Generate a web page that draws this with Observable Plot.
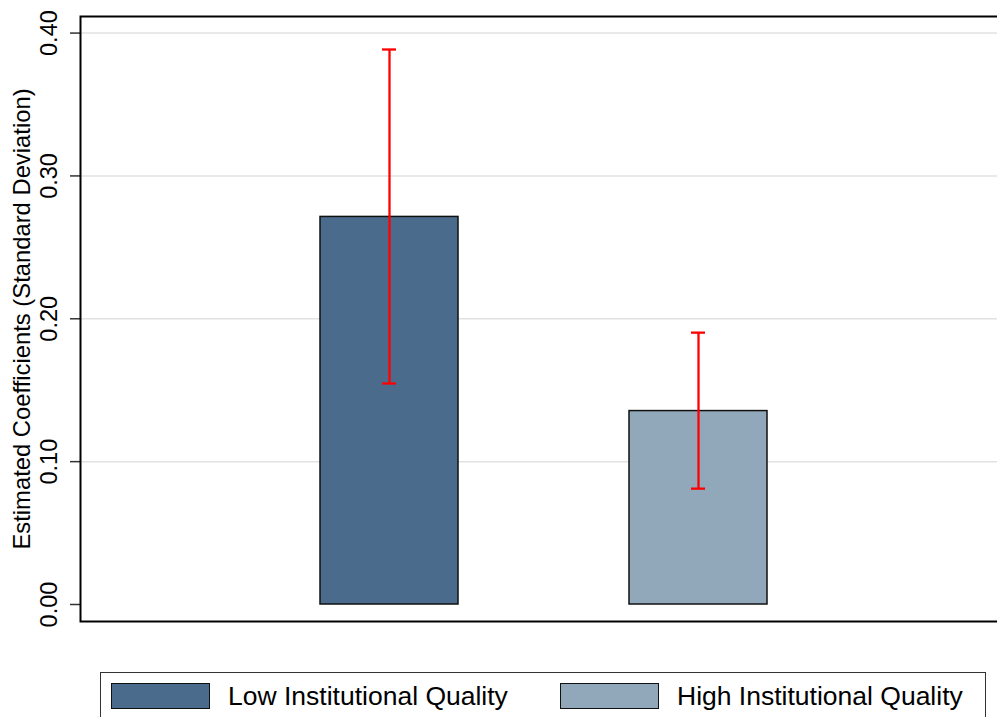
<!DOCTYPE html>
<html>
<head>
<meta charset="utf-8">
<script src="https://cdn.jsdelivr.net/npm/d3@7"></script>
<script src="https://cdn.jsdelivr.net/npm/@observablehq/plot@0.6"></script>
<style>
  html, body { margin: 0; padding: 0; background: #fff; overflow: hidden; }
  body { width: 997px; height: 717px; font-family: "Liberation Sans", Arial, Helvetica, sans-serif; }
  #legend {
    position: absolute; left: 100px; top: 672px; width: 886px; height: 60px;
    border: 1.5px solid #333; box-sizing: border-box; background: #fff;
  }
  .item { position: absolute; top: 10px; display: flex; align-items: center; }
  .sw { width: 99px; height: 26px; border: 1.5px solid #111; box-sizing: border-box; }
  .lab { margin-left: 18px; font-size: 26.5px; color: #000; line-height: 26px; }
</style>
</head>
<body>
<div id="chart"></div>
<div id="legend"></div>
<script>
const groups = ["Low Institutional Quality", "High Institutional Quality"];
const coefs = [0.2713, 0.1354];
const ciLow = [0.1547, 0.0811];
const ciHigh = [0.3885, 0.1903];
const colors = ["#4a6b8c", "#91a8bb"];
const yTicks = [0, 0.1, 0.2, 0.3, 0.4];
const yTitle = "Estimated Coefficients (Standard Deviation)";

const data = groups.map((g, i) => ({group: g, value: coefs[i], lo: ciLow[i], hi: ciHigh[i]}));

const chart = Plot.plot({
  width: 997,
  height: 640,
  marginLeft: 80,
  marginRight: -11,
  marginTop: 16,
  marginBottom: 19,
  style: {fontFamily: "Liberation Sans, Arial, sans-serif", background: "#fff"},
  x: {type: "band", domain: groups, paddingInner: 0.553, paddingOuter: 0.778, axis: null},
  y: {domain: [-0.0119, 0.4116], axis: null},
  color: {domain: groups, range: colors},
  marks: [
    Plot.ruleY(yTicks.filter(d => d > 0), {stroke: "#e2e2e2", strokeWidth: 1.5}),
    Plot.barY(data, {x: "group", y1: 0, y2: "value", fill: "group", stroke: "#111", strokeWidth: 1.5}),
    Plot.ruleX(data, {x: "group", y1: "lo", y2: "hi", stroke: "#ff0000", strokeWidth: 2.3}),
    Plot.tickY(data, {x: "group", y: "lo", stroke: "#ff0000", strokeWidth: 2.3, insetLeft: 62, insetRight: 62}),
    Plot.tickY(data, {x: "group", y: "hi", stroke: "#ff0000", strokeWidth: 2.3, insetLeft: 62, insetRight: 62}),
    Plot.axisY({ticks: yTicks, tickSize: 10, tickFormat: () => "", stroke: "#333", strokeWidth: 1.5, label: null}),
    Plot.text(yTicks, {y: d => d, text: d => d3.format(".2f")(d), frameAnchor: "left", dx: -31, rotate: -90,
      textAnchor: "middle", lineAnchor: "middle", fontSize: 23.5, fill: "#000"}),
    Plot.text([yTitle], {text: d => d, frameAnchor: "left", dx: -58, rotate: -90,
      textAnchor: "middle", lineAnchor: "middle", fontSize: 23.8, fill: "#000"}),
    Plot.frame({stroke: "#000", strokeWidth: 2})
  ]
});
document.getElementById("chart").appendChild(chart);

const legend = document.getElementById("legend");
const lefts = [10, 459];
groups.forEach((g, i) => {
  const item = document.createElement("div");
  item.className = "item";
  item.style.left = lefts[i] + "px";
  const sw = document.createElement("div");
  sw.className = "sw";
  sw.style.background = colors[i];
  const lab = document.createElement("span");
  lab.className = "lab";
  lab.textContent = g;
  item.appendChild(sw);
  item.appendChild(lab);
  legend.appendChild(item);
});
</script>
</body>
</html>
